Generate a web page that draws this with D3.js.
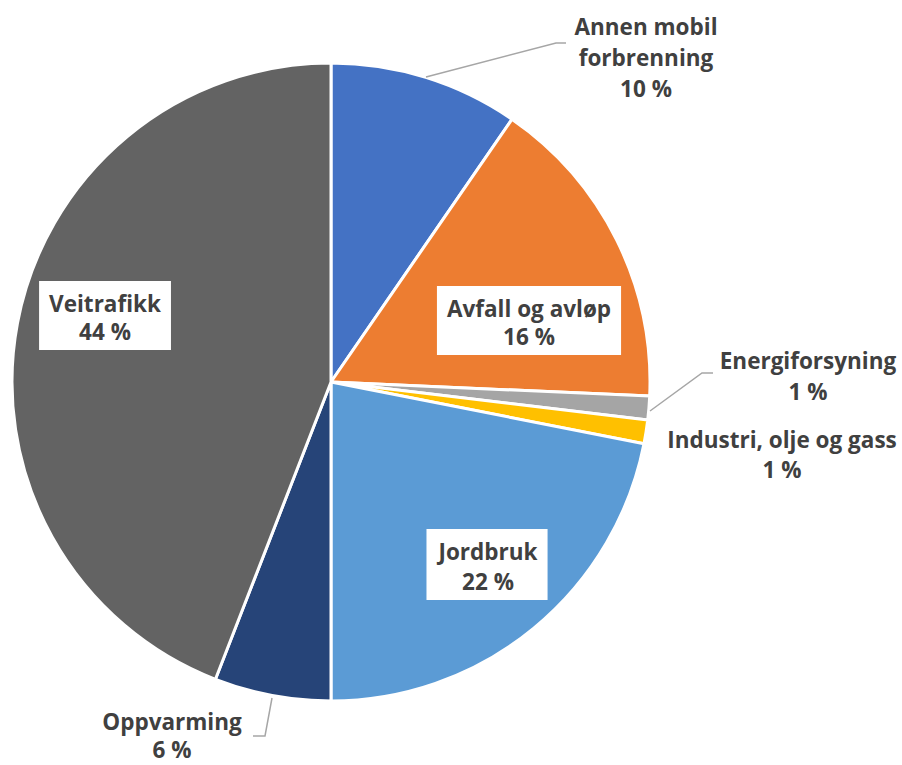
<!DOCTYPE html>
<html><head><meta charset="utf-8">
<script src="https://cdn.jsdelivr.net/npm/d3@7"></script>
<style>body{margin:0;background:#fff}svg{display:block}</style>
</head><body>
<svg id="c" width="902" height="765"></svg>
<script>
const categories = ["Annen mobil forbrenning","Avfall og avløp","Energiforsyning","Industri, olje og gass","Jordbruk","Oppvarming","Veitrafikk"];
const values = [9.6, 16.1, 1.2, 1.2, 21.9, 5.9, 44.1];
const pctLabels = ["10 %","16 %","1 %","1 %","22 %","6 %","44 %"];
const colors = ["#4472C4","#ED7D31","#A5A5A5","#FFC000","#5B9BD5","#264478","#636363"];

const W = 902, H = 765, cx = 331, cy = 382, R = 319;
const svg = d3.select("#c");
const g = svg.append("g").attr("transform", `translate(${cx},${cy})`);
const pie = d3.pie().sort(null).value(d => d)(values);
const arc = d3.arc().innerRadius(0).outerRadius(R);

g.selectAll("path").data(pie).join("path")
  .attr("d", arc).attr("fill", (d,i)=>colors[i])
  .attr("stroke", "#fff").attr("stroke-width", 3).attr("stroke-linejoin","round");

// label layout (absolute coords): lines, center x, first baseline, line height, box flag
const layout = [
  {lines:["Annen mobil","forbrenning"], x:646, y:35, lh:31, box:false, leader:[[426,77],[556,43],[566,43]]},
  {lines:["Avfall og avløp"], x:529, y:317, lh:28, box:true},
  {lines:["Energiforsyning"], x:808, y:369, lh:31, box:false, leader:[[650,411],[702,373],[713,373]]},
  {lines:["Industri, olje og gass"], x:782, y:448, lh:30, box:false},
  {lines:["Jordbruk"], x:488, y:560, lh:30, box:true},
  {lines:["Oppvarming"], x:172, y:730, lh:28, box:false, leader:[[272,698],[265,736],[253,736]]},
  {lines:["Veitrafikk"], x:105, y:312, lh:28, box:true}
];
const fontFamily = "'Open Sans', sans-serif";

layout.forEach((L,i) => {
  if (L.leader) {
    svg.append("polyline").attr("points", L.leader.map(p=>p.join(",")).join(" "))
      .attr("fill","none").attr("stroke","#A6A6A6").attr("stroke-width",1.5);
  }
  const lines = L.lines.concat([pctLabels[i]]);
  const tg = svg.append("g");
  if (L.box) tg.append("rect");
  const t = tg.append("text").attr("text-anchor","middle")
    .attr("font-family", fontFamily).attr("font-weight","bold").attr("font-size", 22.5)
    .attr("fill","#404040");
  lines.forEach((s,k) => t.append("tspan").attr("x", L.x).attr("y", L.y + k*L.lh).text(s));
  if (L.box) {
    const bb = t.node().getBBox();
    const top = L.y - 31, h = (lines.length-1)*L.lh + 41;
    tg.select("rect").attr("x", bb.x-10).attr("y", top).attr("width", bb.width+20).attr("height", h).attr("fill","#fff");
  }
});
</script>
</body></html>
